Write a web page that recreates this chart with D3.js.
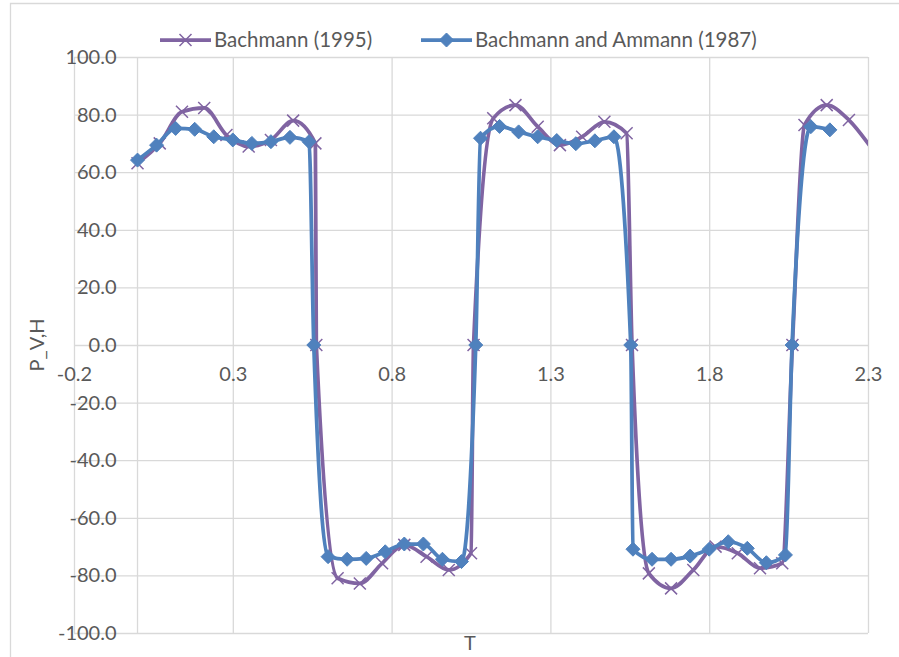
<!DOCTYPE html>
<html>
<head>
<meta charset="utf-8">
<script src="https://cdn.jsdelivr.net/npm/d3@7"></script>
<style>
  body { margin: 0; background: #fff; }
  svg text { font-family: Lato, "Open Sans", sans-serif; fill: #595959; }
</style>
</head>
<body>
<div id="chart"></div>
<script>
// Bachmann (1995), markers every 0.07 in T plus the zero crossings
var bachmannT = [0, 0.07, 0.14, 0.21, 0.28, 0.35, 0.42, 0.49, 0.56, 0.563,
    0.63, 0.70, 0.77, 0.84, 0.91, 0.98, 1.05, 1.058,
    1.12, 1.19, 1.26, 1.33, 1.40, 1.47, 1.54, 1.557,
    1.61, 1.68, 1.75, 1.82, 1.89, 1.96, 2.03, 2.062,
    2.10, 2.17, 2.24, 2.31];
var bachmannP = [63.1, 70.0, 81.0, 82.3, 72.9, 68.9, 71.2, 77.9, 70.0, 0,
    -81.0, -82.8, -75.8, -69.4, -73.5, -78.1, -72.3, 0,
    78.7, 83.3, 75.8, 69.4, 72.3, 77.5, 73.5, 0,
    -79.3, -84.5, -78.1, -70.0, -72.3, -77.5, -75.8, 0,
    76.4, 83.3, 78.1, 68.5];

// Bachmann and Ammann (1987), markers every 0.06 in T plus the zero crossings
var ammannT = [0, 0.06, 0.12, 0.18, 0.24, 0.30, 0.36, 0.42, 0.48, 0.54, 0.555,
    0.60, 0.66, 0.72, 0.78, 0.84, 0.90, 0.96, 1.02, 1.065,
    1.08, 1.14, 1.20, 1.26, 1.32, 1.38, 1.44, 1.50, 1.553,
    1.56, 1.62, 1.68, 1.74, 1.80, 1.86, 1.92, 1.98, 2.04, 2.061,
    2.12, 2.18];
var ammannP = [64.2, 69.4, 75.2, 74.9, 72.3, 71.2, 70.0, 70.6, 72.1, 70.6, 0,
    -73.5, -74.4, -74.1, -71.8, -69.1, -69.1, -74.4, -75.2, 0,
    71.8, 75.9, 74.0, 72.3, 71.0, 69.9, 70.9, 72.3, 0,
    -70.9, -74.4, -74.4, -73.3, -70.9, -68.3, -70.6, -75.6, -72.9, 0,
    75.8, 74.7];

var xTicks = [-0.2, 0.3, 0.8, 1.3, 1.8, 2.3];
var yTicks = [-100, -80, -60, -40, -20, 0, 20, 40, 60, 80, 100];
var seriesNames = ['Bachmann (1995)', 'Bachmann and Ammann (1987)'];

var purple = '#8064A2',
    blue = '#4F81BD',
    gridColor = '#d9d9d9';

var width = 899, height = 657;
var plot = {left: 74, right: 868, top: 57, bottom: 633};

var svg = d3.select('#chart').append('svg')
    .attr('width', width)
    .attr('height', height);

svg.append('rect').attr('width', width).attr('height', height).attr('fill', '#fff');

// outer chart border (cropped on right and bottom)
svg.append('path')
    .attr('d', 'M10.5,' + height + 'V3.5H' + width)
    .attr('fill', 'none')
    .attr('stroke', gridColor)
    .attr('stroke-width', 1.3);

var x = d3.scaleLinear().domain([-0.2, 2.3]).range([plot.left, plot.right]);
var y = d3.scaleLinear().domain([-100, 100]).range([plot.bottom, plot.top]);

// excel style labels: plain hyphen minus, one decimal
var fmt = function(d) { return d.toFixed(1); };

// gridlines
var gridY = svg.append('g')
    .attr('transform', 'translate(' + plot.left + ',0)')
    .call(d3.axisLeft(y).tickValues(yTicks).tickSize(-(plot.right - plot.left)).tickFormat(''));
var gridX = svg.append('g')
    .attr('transform', 'translate(0,' + plot.bottom + ')')
    .call(d3.axisBottom(x).tickValues(xTicks).tickSize(-(plot.bottom - plot.top)).tickFormat(''));
[gridX, gridY].forEach(function(g) {
    g.select('.domain').remove();
    g.selectAll('line').attr('stroke', gridColor).attr('stroke-width', 1.3);
});

// vertical axis line at T = 0
svg.append('line')
    .attr('x1', x(0)).attr('x2', x(0))
    .attr('y1', y(100)).attr('y2', y(-100))
    .attr('stroke', gridColor)
    .attr('stroke-width', 1.3);

// tick labels
var yAxis = svg.append('g')
    .attr('transform', 'translate(' + x(0) + ',0)')
    .call(d3.axisLeft(y).tickValues(yTicks).tickSize(0).tickPadding(21).tickFormat(fmt));
var xAxis = svg.append('g')
    .attr('transform', 'translate(0,' + y(0) + ')')
    .call(d3.axisBottom(x).tickValues(xTicks).tickSize(0).tickPadding(22).tickFormat(fmt));
[xAxis, yAxis].forEach(function(g) {
    g.select('.domain').remove();
    g.selectAll('text').attr('font-size', 20).attr('fill', '#595959')
        .attr('font-family', 'Lato, "Open Sans", sans-serif');
});

// axis titles
svg.append('text')
    .attr('transform', 'translate(44,' + y(0) + ') rotate(-90)')
    .attr('text-anchor', 'middle')
    .attr('font-size', 20)
    .text('P_V,H');
svg.append('text')
    .attr('x', (plot.left + plot.right) / 2 - 1)
    .attr('y', 650)
    .attr('text-anchor', 'middle')
    .attr('font-size', 20)
    .text('T');

// series
svg.append('clipPath').attr('id', 'plot-clip')
    .append('rect')
    .attr('x', plot.left).attr('y', plot.top - 10)
    .attr('width', plot.right - plot.left).attr('height', plot.bottom - plot.top + 20);

var bachmann = bachmannT.map(function(t, i) { return {t: t, p: bachmannP[i]}; });
var ammann = ammannT.map(function(t, i) { return {t: t, p: ammannP[i]}; });

var line = d3.line()
    .x(function(d) { return x(d.t); })
    .y(function(d) { return y(d.p); })
    .curve(d3.curveMonotoneX);

var crossPath = 'M-6,-6L6,6M-6,6L6,-6';
var diamondPath = 'M0,-7L7,0L0,7L-7,0Z';

var series = svg.append('g').attr('clip-path', 'url(#plot-clip)');

series.append('path')
    .datum(bachmann)
    .attr('d', line)
    .attr('fill', 'none')
    .attr('stroke', purple)
    .attr('stroke-width', 3.75)
    .attr('stroke-linejoin', 'round');
series.selectAll('.cross')
    .data(bachmann.filter(function(d) { return d.t <= 2.3; }))
    .enter().append('path')
    .attr('class', 'cross')
    .attr('transform', function(d) { return 'translate(' + x(d.t) + ',' + y(d.p) + ')'; })
    .attr('d', crossPath)
    .attr('fill', 'none')
    .attr('stroke', purple)
    .attr('stroke-width', 1.5);

series.append('path')
    .datum(ammann)
    .attr('d', line)
    .attr('fill', 'none')
    .attr('stroke', blue)
    .attr('stroke-width', 3.75)
    .attr('stroke-linejoin', 'round');
series.selectAll('.diamond')
    .data(ammann)
    .enter().append('path')
    .attr('class', 'diamond')
    .attr('transform', function(d) { return 'translate(' + x(d.t) + ',' + y(d.p) + ')'; })
    .attr('d', diamondPath)
    .attr('fill', blue)
    .attr('stroke', blue)
    .attr('stroke-width', 1);

// legend
var legendItems = [
    {name: seriesNames[0], color: purple, marker: crossPath, x0: 160, fill: 'none', sw: 1.5},
    {name: seriesNames[1], color: blue, marker: diamondPath, x0: 421, fill: blue, sw: 1}
];
var legend = svg.append('g').selectAll('g')
    .data(legendItems)
    .enter().append('g')
    .attr('transform', function(d) { return 'translate(' + d.x0 + ',40)'; });
legend.append('line')
    .attr('x1', 0).attr('x2', 51)
    .attr('stroke', function(d) { return d.color; })
    .attr('stroke-width', 3.75);
legend.append('path')
    .attr('transform', 'translate(25.5,0)')
    .attr('d', function(d) { return d.marker; })
    .attr('fill', function(d) { return d.fill; })
    .attr('stroke', function(d) { return d.color; })
    .attr('stroke-width', function(d) { return d.sw; });
legend.append('text')
    .attr('x', 54)
    .attr('dy', '0.35em')
    .attr('font-size', 20.5)
    .text(function(d) { return d.name; });
</script>
</body>
</html>
